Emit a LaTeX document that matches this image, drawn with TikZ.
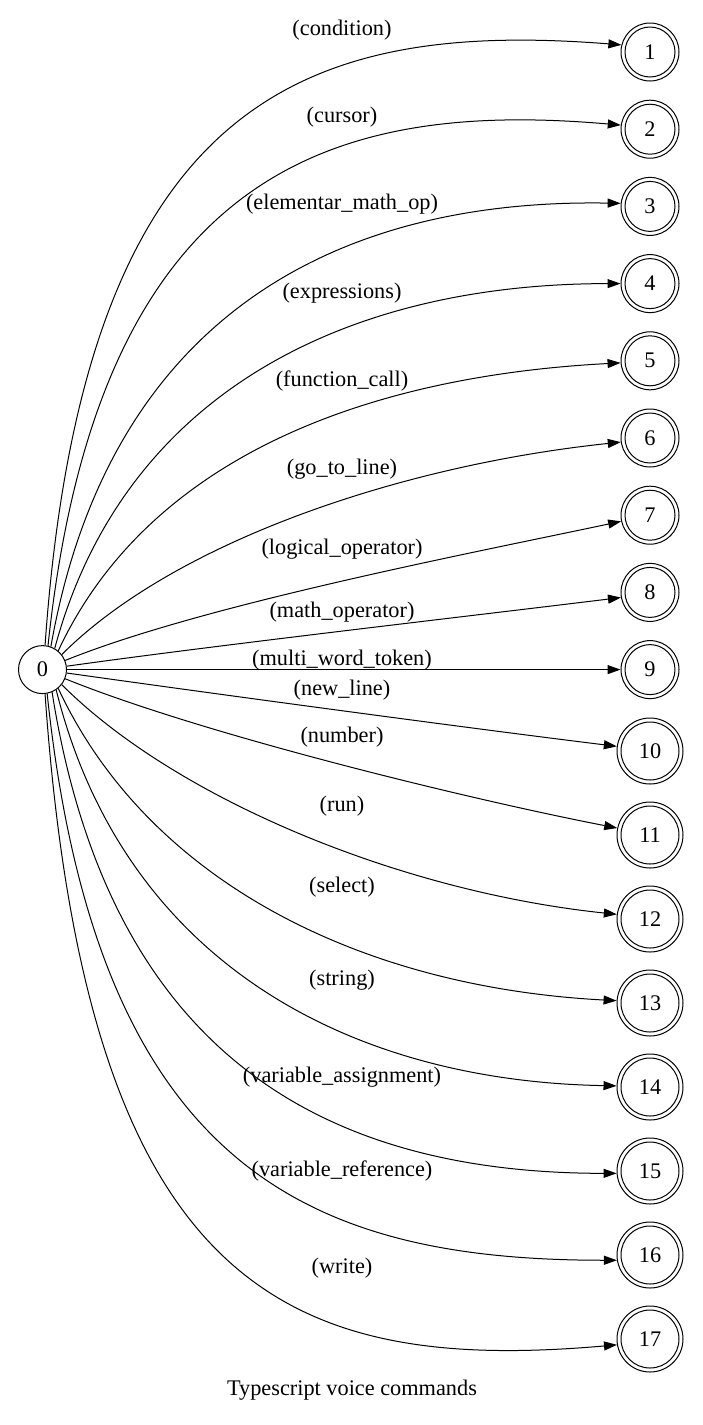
\documentclass[tikz,border=0pt]{standalone}
\usepackage{fontspec}
\setmainfont{Liberation Serif}
\usetikzlibrary{arrows.meta}
\begin{document}
\begin{tikzpicture}[x=1pt,y=1pt,
  font=\fontsize{22.3}{26}\selectfont,
  line width=1pt,
  st/.style={circle,draw,minimum size=48pt,inner sep=0pt},
  acc/.style={circle,draw,minimum size=#1,inner sep=0pt},
  lbl/.style={inner sep=0pt},
  conn/.style={-{Triangle[length=13pt,width=9pt]}}]
\useasboundingbox (0,0) rectangle (702,-1425);
\node[st] (n0) at (42.5,-669.6) {0};
\foreach \k/\y in {1/52,2/129.2,3/206.4,4/283.6,5/360.8,6/438,7/515.2,8/592.4,9/669.6}{
  \node[acc=58pt] (n\k) at (650,-\y) {\k};
  \draw (n\k.center) circle[radius=25pt];
}
\foreach \k/\y in {10/751,11/835,12/919,13/1003,14/1087,15/1171,16/1255,17/1339}{
  \node[acc=66pt] (n\k) at (650,-\y) {\k};
  \draw (n\k.center) circle[radius=29pt];
}
\foreach \k/\an/\o/\la/\ii/\lb/\t in {
  1/84/86/546/175.5/321/166,
  2/77/84/479/175/289/172,
  3/70/80/330/179/290/174,
  4/60/75/260/180/280/180,
  5/50/65/210/183/260/184,
  6/38/45/160/186/220/188,
  7/22/22/150/192/150/192,
  8/8/8/150/187/150/190,
  9/0/0/150/180/150/180,
  10/-8/-8/150/173/150/172,
  11/-22/-22/150/169/150/168,
  12/-38/-45/160/174/220/172,
  13/-50/-65/210/177/260/176,
  14/-56/-76/280/179/268/178,
  15/-67/-81/372/180/287/184,
  16/-79/-84/479/180/307/189,
  17/-84/-86/596/185/334/190}{
  \draw[conn] (n0.\an) to[out=\o, in=\ii, out distance=\la pt, in distance=\lb pt] (n\k.\t);
}
\node[lbl] (l1) at (342,-30) {(condition)};
\node[lbl] (l2) at (342,-117) {(cursor)};
\node[lbl] (l3) at (342,-204) {(elementar\_math\_op)};
\node[lbl] (l4) at (342,-293) {(expressions)};
\node[lbl] (l5) at (342,-381) {(function\_call)};
\node[lbl] (l6) at (342,-469) {(go\_to\_line)};
\node[lbl] (l7) at (342,-549) {(logical\_operator)};
\node[lbl] (l8) at (342,-612) {(math\_operator)};
\node[lbl] (l9) at (342,-660) {(multi\_word\_token)};
\node[lbl] (l10) at (342,-690) {(new\_line)};
\node[lbl] (l11) at (342,-737) {(number)};
\node[lbl] (l12) at (342,-806) {(run)};
\node[lbl] (l13) at (342,-887) {(select)};
\node[lbl] (l14) at (342,-980) {(string)};
\node[lbl] (l15) at (342,-1077) {(variable\_assignment)};
\node[lbl] (l16) at (342,-1171) {(variable\_reference)};
\node[lbl] (l17) at (342,-1268) {(write)};
\node[lbl] (cap) at (352,-1390) {Typescript voice commands};
\end{tikzpicture}
\end{document}
